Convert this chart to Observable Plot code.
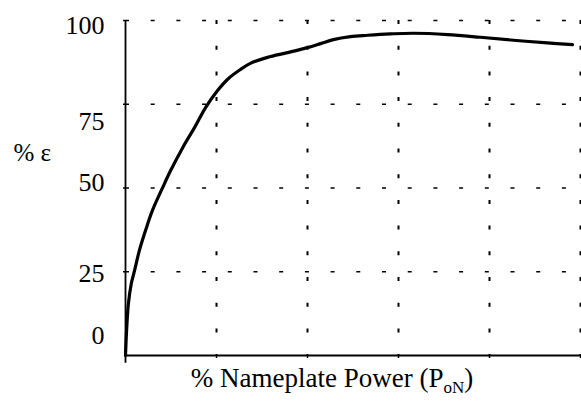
<!DOCTYPE html>
<html><head><meta charset="utf-8">
<script src="https://cdn.jsdelivr.net/npm/d3@7"></script>
<script src="https://cdn.jsdelivr.net/npm/@observablehq/plot@0.6"></script>
<style>body{margin:0;background:#fff}</style>
</head><body><div id="chart"></div>
<script>
// Data
const power = [0, 0.3, 0.8, 1.6, 2.5, 3.8, 5.5, 7.4, 10.2, 12.4, 15.9, 19.0, 22.0, 25.3, 28.3, 31.6, 34.3, 39, 44.5, 50, 53.6, 57.1, 61.8, 66.5, 72.8, 79.1, 88.5, 97.5, 106.6, 115.9, 122.8];
const efficiency = [0, 7.5, 15.5, 21.5, 25.4, 31.3, 37.3, 43.3, 50.1, 55.2, 62.4, 68.1, 74.0, 79.1, 82.7, 85.4, 87.2, 89, 90.4, 91.9, 93.1, 94.3, 95.2, 95.6, 96.0, 96.2, 95.8, 95.0, 94.1, 93.3, 92.8];
const yTicks = [0, 25, 50, 75, 100];
const yGrid = [25, 50, 75, 100];
const xGrid = [25, 50, 75, 100, 125];
const yLabel = "% ε";
const xLabelMain = "% Nameplate Power (P";
const xLabelSub = "oN";
const xLabelEnd = ")";

const curve = power.map((p, i) => ({power: p, eff: efficiency[i]}));
// label vertical offsets mimic the reference placement
const labelDy = {0: -20, 25: 2, 50: -5, 75: 17, 100: 5};

const font = "'Liberation Serif', 'Times New Roman', serif";
const dash = "4,21.7";

const chart = Plot.plot({
  width: 581,
  height: 406,
  marginLeft: 125,
  marginRight: 1,
  marginTop: 20,
  marginBottom: 51,
  style: {fontFamily: font, background: "#fff", color: "#000"},
  x: {type: "linear", domain: [0, 125], axis: null, label: null},
  y: {type: "linear", domain: [0, 100], axis: null, label: null},
  marks: [
    Plot.ruleY(yGrid, {stroke: "#000", strokeWidth: 1.6, strokeDasharray: dash}),
    Plot.ruleX(xGrid, {stroke: "#000", strokeWidth: 2, strokeDasharray: dash}),
    // axes lines
    Plot.ruleX([0], {y1: -2.3, y2: 100, stroke: "#000", strokeWidth: 1.8}),
    Plot.ruleY([0], {stroke: "#000", strokeWidth: 1.8}),
    // tick marks
    Plot.axisX(xGrid, {tickSize: 3, text: null, label: null, strokeWidth: 1.5}),
    Plot.axisY(yGrid, {tickSize: 2, text: null, label: null, strokeWidth: 1.5}),
    // tick labels
    ...yTicks.map(t => Plot.text([t], {y: d => d, text: d => String(d), frameAnchor: "left", textAnchor: "end", dx: -21, dy: labelDy[t], fontSize: 26, fontFamily: font, fill: "#000"})),
    // curve
    Plot.line(curve, {x: "power", y: "eff", curve: "catmull-rom", stroke: "#000", strokeWidth: 3.2}),
    // axis titles
    Plot.text([yLabel], {text: d => d, frameAnchor: "left", textAnchor: "start", dx: -112, dy: -35, fontSize: 25, fontFamily: font, fill: "#000"}),
    Plot.text([xLabelMain], {text: d => d, frameAnchor: "bottom", dx: -21, dy: 31, fontSize: 27, fontFamily: font, fill: "#000"})
  ]
});

// add subscript to the x-axis title
d3.select(chart).selectAll("text").each(function() {
  const t = d3.select(this);
  if (this.textContent === xLabelMain) {
    t.text(null);
    t.append("tspan").text(xLabelMain);
    t.append("tspan").attr("dy", 6).attr("font-size", 17).text(xLabelSub);
    t.append("tspan").attr("dy", -6).text(xLabelEnd);
  }
});

document.getElementById("chart").append(chart);
</script>
</body></html>
